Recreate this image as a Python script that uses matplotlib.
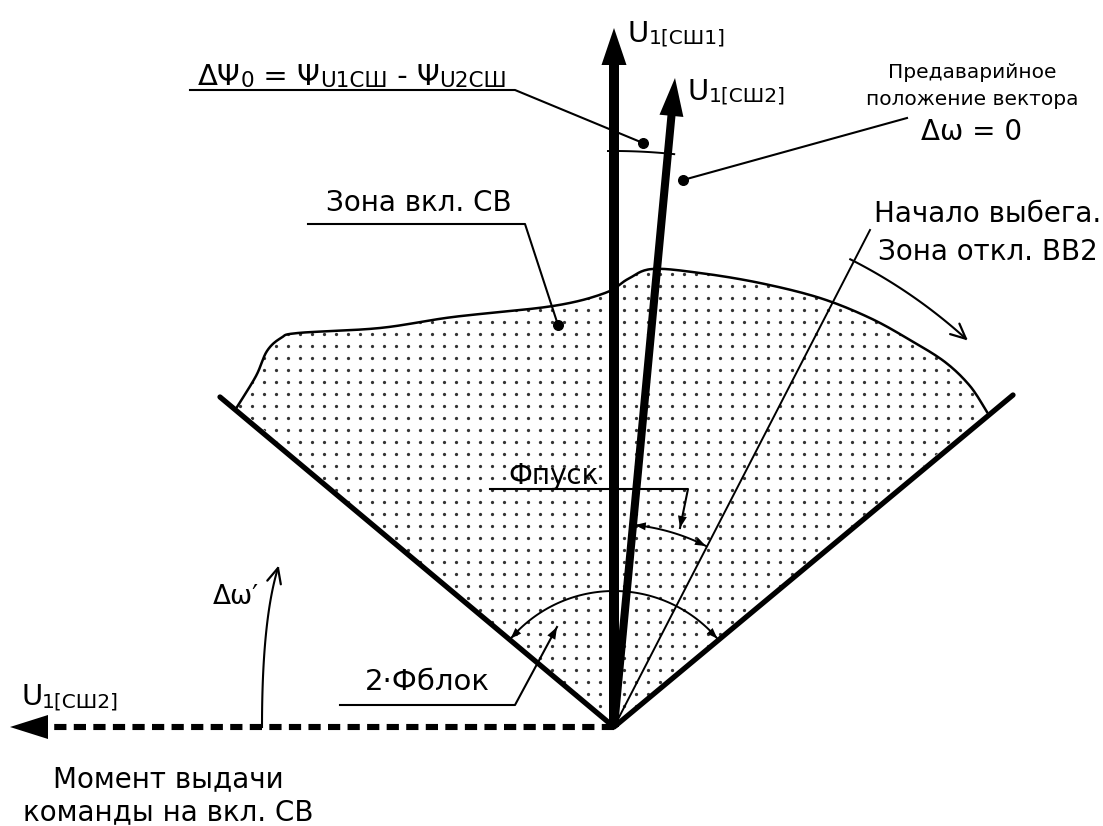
import numpy as np
import matplotlib
matplotlib.use("Agg")
import matplotlib.pyplot as plt
from matplotlib.patches import Polygon

plt.rcParams['font.family'] = ['DejaVu Sans']

W, H = 1103, 826
O = (614, 727)

# vectors (tips in picture pixels)
u1_tip = (614, 28)
u2_tip = (675, 78)
u_left_tip = (10, 727)
left_end = (220, 397)
right_end = (1013, 395)
thin_end = (870, 230)

# outline of the dotted zone (left -> right)
zone_pts = [(237, 407), (256, 376), (267, 351), (281, 338), (298, 333), (380, 328),
            (453, 317), (553, 306), (605, 293), (628, 279), (652, 269), (700, 273),
            (760, 283), (820, 298), (870, 318), (910, 340), (945, 362), (970, 386),
            (987, 412)]

FS = 20       # main text size, pt
FS_SUB = 14.5 # subscript size, pt
FS_SMALL = 14.5


def smooth(pts, n=16):
    p = np.array(pts, float)
    p = np.vstack([p[0], p, p[-1]])
    out = []
    for i in range(1, len(p) - 2):
        p0, p1, p2, p3 = p[i - 1], p[i], p[i + 1], p[i + 2]
        for t in np.linspace(0, 1, n, endpoint=False):
            out.append(0.5 * ((2 * p1) + (-p0 + p2) * t + (2 * p0 - 5 * p1 + 4 * p2 - p3) * t ** 2
                              + (-p0 + 3 * p1 - 3 * p2 + p3) * t ** 3))
    out.append(p[-2])
    return np.array(out)


def head(ax, tip, frm, length, hw, filled=True, lw=1.6):
    tip = np.array(tip, float)
    d = tip - np.array(frm, float)
    d /= np.hypot(*d)
    n = np.array([-d[1], d[0]])
    base = tip - d * length
    a, b = base + n * hw, base - n * hw
    if filled:
        ax.add_patch(Polygon([tip, a, b], closed=True, color='black', lw=0, zorder=6))
    else:
        ax.plot([a[0], tip[0], b[0]], [a[1], tip[1], b[1]], color='black', lw=lw,
                solid_capstyle='round', solid_joinstyle='miter', zorder=6)


def arc_pts(r, a1, a2, n=80):
    t = np.radians(np.linspace(a1, a2, n))
    return O[0] + r * np.cos(t), O[1] - r * np.sin(t)


fig = plt.figure(figsize=(W / 100, H / 100), dpi=100)
ax = fig.add_axes([0, 0, 1, 1])
ax.set_xlim(0, W)
ax.set_ylim(H, 0)
ax.axis('off')

# dotted zone
curve = smooth(zone_pts)
poly = np.vstack([curve, [O]])
zone = Polygon(poly, closed=True, facecolor='none', edgecolor='none')
ax.add_patch(zone)
gx, gy = np.meshgrid(np.arange(228, 1010, 12.0), np.arange(262, 728, 12.0))
dots = ax.scatter(gx.ravel(), gy.ravel(), s=5.5, color='#333333', lw=0, zorder=1)
dots.set_clip_path(zone)
ax.plot(curve[:, 0], curve[:, 1], color='black', lw=1.8, zorder=3)

# boundary lines
ax.plot([left_end[0], O[0], right_end[0]], [left_end[1], O[1], right_end[1]],
        color='black', lw=3.8, solid_capstyle='round', zorder=4)

# thin line
ax.plot([O[0], thin_end[0]], [O[1], thin_end[1]], color='black', lw=1.4, zorder=4)

# vectors
def vector(tip, lw, hl, hw):
    d = np.array(tip, float) - np.array(O, float)
    d /= np.hypot(*d)
    base = np.array(tip) - d * (hl - 2)
    ax.plot([O[0], base[0]], [O[1], base[1]], color='black', lw=lw, solid_capstyle='butt', zorder=5)
    head(ax, tip, O, hl, hw)

vector(u1_tip, 7.2, 37, 12.5)
vector(u2_tip, 5.8, 38, 12)

# dashed vector to the left
ax.plot([O[0], 48], [O[1], O[1]], color='black', lw=4.4, ls=(0, (2.0, 1.2)), zorder=5)
head(ax, u_left_tip, O, 38, 12)

# angle arc between the two vectors
ax.plot(*arc_pts(576, 90.6, 84.0), color='black', lw=1.4, zorder=4)

# Ф пуск arc
ang_u2 = np.degrees(np.arctan2(O[1] - u2_tip[1], u2_tip[0] - O[0]))
ang_thin = np.degrees(np.arctan2(O[1] - thin_end[1], thin_end[0] - O[0]))
xa, ya = arc_pts(203, ang_u2 - 0.5, ang_thin + 0.3)
ax.plot(xa, ya, color='black', lw=1.4, zorder=4)
head(ax, (xa[0], ya[0]), (xa[6], ya[6]), 11, 4)
head(ax, (xa[-1], ya[-1]), (xa[-7], ya[-7]), 11, 4)

# 2·Ф блок arc
xb, yb = arc_pts(136, 139.5, 40.5)
ax.plot(xb, yb, color='black', lw=1.4, zorder=4)
head(ax, (xb[0], yb[0]), (xb[6], yb[6]), 11, 4)
head(ax, (xb[-1], yb[-1]), (xb[-7], yb[-7]), 11, 4)

# run-out arc with open head
xc, yc = arc_pts(524, 63.2, 47.8)
ax.plot(xc, yc, color='black', lw=1.5, zorder=4)
head(ax, (xc[-1], yc[-1]), (xc[-8], yc[-8]), 15, 7, filled=False)

# Δω' curve
t = np.linspace(0, 1, 60)
p0, p1, p2 = np.array([262, 727]), np.array([262, 620]), np.array([278, 568])
bz = ((1 - t) ** 2)[:, None] * p0 + (2 * (1 - t) * t)[:, None] * p1 + (t ** 2)[:, None] * p2
ax.plot(bz[:, 0], bz[:, 1], color='black', lw=1.5, zorder=4)
head(ax, bz[-1], bz[-8], 15, 7, filled=False)

# leaders
def leader(xs, ys, dot=None, arrow=False):
    ax.plot(xs, ys, color='black', lw=1.5, zorder=6)
    if dot:
        ax.scatter([xs[-1]], [ys[-1]], s=48, color='black', zorder=7)
    if arrow:
        head(ax, (xs[-1], ys[-1]), (xs[-2], ys[-2]), 12, 4.5)

leader([190, 515, 643], [90, 90, 143], dot=True)
leader([308, 525, 558], [224, 224, 325], dot=True)
leader([907, 683], [118, 180], dot=True)
leader([490, 688, 680], [489, 489, 528], arrow=True)
leader([340, 515, 557], [705, 705, 627], arrow=True)

# text
def chain(x, y, parts):
    prev = None
    for s, fs in parts:
        if prev is None:
            prev = ax.text(x, y, s, fontsize=fs, ha='left', va='baseline', zorder=8)
        else:
            prev = ax.annotate(s, xy=(1, 0), xycoords=prev, fontsize=fs, ha='left',
                               va='bottom', zorder=8)

chain(628, 42, [('U', 21), ('1[СШ1]', FS_SUB)])
chain(688, 100, [('U', 21), ('1[СШ2]', FS_SUB)])
chain(21, 705, [('U', 21), ('1[СШ2]', FS_SUB)])
chain(198, 85, [('ΔΨ', 21), ('0', 15.5), (' = Ψ', 21), ('U1СШ', 15.5),
                (' - Ψ', 21), ('U2СШ', 15.5)])

ax.text(972, 78, 'Предаварийное', fontsize=FS_SMALL, ha='center', va='baseline')
ax.text(972, 105, 'положение вектора', fontsize=FS_SMALL, ha='center', va='baseline')
ax.text(972, 140, 'Δω = 0', fontsize=FS, ha='center', va='baseline')

ax.text(326, 211, 'Зона вкл. СВ', fontsize=FS, ha='left', va='baseline')
ax.text(988, 222, 'Начало выбега.', fontsize=FS, ha='center', va='baseline')
ax.text(988, 260, 'Зона откл. ВВ2', fontsize=FS, ha='center', va='baseline')
ax.text(508, 484, 'Фпуск', fontsize=FS, ha='left', va='baseline', zorder=8)
ax.text(365, 690, '2·Фблок', fontsize=FS + 1, ha='left', va='baseline', zorder=8)
ax.text(213, 604, 'Δω\u2032', fontsize=FS - 1, ha='left', va='baseline')
ax.text(168, 787, 'Момент выдачи', fontsize=FS, ha='center', va='baseline')
ax.text(168, 820, 'команды на вкл. СВ', fontsize=FS, ha='center', va='baseline')

fig.savefig('out.png', dpi=100)
